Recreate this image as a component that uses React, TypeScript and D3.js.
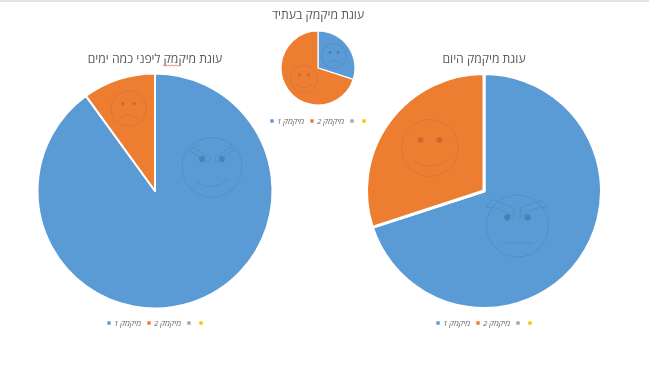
import React from "react";
import * as d3 from "d3";

const seriesColors = ["#5B9BD5", "#ED7D31", "#A5A5A5", "#FFC000"];
const legendLabels = ["מיקמק 1", "מיקמק 2", "", ""];

const titlePast = "עוגת מיקמק ליפני כמה ימים";
const titleFuture = "עוגת מיקמק בעתיד";
const titleToday = "עוגת מיקמק היום";

const valuesPast = [90, 10];
const valuesFuture = [30, 70];
const valuesToday = [70, 30];

type Mood = "evilSmile" | "sad" | "smile" | "angry";

const blueLine = "#4F8DC3";
const orangeLine = "#DB7430";
const blueEye = "#4A7FAE";
const orangeEye = "#C96A2C";
const fontFamily = "'Open Sans', 'Liberation Sans', sans-serif";

function Face({ cx, cy, r, mood, color, eyeColor }: { cx: number; cy: number; r: number; mood: Mood; color: string; eyeColor: string }) {
  const u = (v: number) => v * r;
  const eyeDx = 0.33;
  const eyeY = -0.28;
  let mouth = "";
  if (mood === "smile") mouth = `M${u(-0.56)},${u(0.45)} Q0,${u(0.82)} ${u(0.56)},${u(0.45)}`;
  if (mood === "sad") mouth = `M${u(-0.5)},${u(0.58)} Q0,${u(0.12)} ${u(0.5)},${u(0.58)}`;
  if (mood === "evilSmile") mouth = `M${u(-0.58)},${u(0.44)} Q0,${u(0.88)} ${u(0.58)},${u(0.38)}`;
  if (mood === "angry") mouth = `M${u(-0.5)},${u(0.55)} L${u(0.48)},${u(0.55)}`;
  const brows =
    mood === "angry"
      ? [
          `M${u(-1)},${u(-0.6)} L${u(-0.78)},${u(-0.86)} L${u(-0.12)},${u(-0.58)} L${u(-0.12)},${u(-0.28)} Q${u(-0.5)},${u(-0.62)} ${u(-1)},${u(-0.6)} Z`,
          `M${u(0.98)},${u(-0.62)} L${u(0.76)},${u(-0.84)} L${u(0.1)},${u(-0.58)} L${u(0.08)},${u(-0.28)} Q${u(0.5)},${u(-0.62)} ${u(0.98)},${u(-0.62)} Z`,
        ]
      : mood === "evilSmile"
        ? [
            `M${u(-0.72)},${u(-0.54)} L${u(-0.64)},${u(-0.68)} L${u(-0.02)},${u(-0.3)} L${u(-0.1)},${u(-0.18)} Z`,
            `M${u(0.72)},${u(-0.58)} L${u(0.6)},${u(-0.68)} L${u(0.1)},${u(-0.32)} L${u(0.14)},${u(-0.18)} Z`,
          ]
        : [];
  return (
    <g transform={`translate(${cx},${cy})`} fill="none" stroke={color} strokeWidth={0.9}>
      <circle r={r} />
      <circle cx={-u(eyeDx)} cy={u(eyeY)} r={Math.max(1.4, u(0.1))} fill={eyeColor} stroke="none" />
      <circle cx={u(eyeDx)} cy={u(eyeY)} r={Math.max(1.4, u(0.1))} fill={eyeColor} stroke="none" />
      <path d={mouth} />
      {brows.map((d, i) => (
        <path key={i} d={d} />
      ))}
    </g>
  );
}

function Pie({ cx, cy, r, values, sw }: { cx: number; cy: number; r: number; values: number[]; sw: number }) {
  const arcs = d3.pie<number>().sort(null)(values);
  const arc = d3.arc<d3.PieArcDatum<number>>().innerRadius(0).outerRadius(r);
  return (
    <g transform={`translate(${cx},${cy})`}>
      {arcs.map((a, i) => (
        <path key={i} d={arc(a) ?? ""} fill={seriesColors[i]} stroke="#fff" strokeWidth={sw} strokeLinejoin="round" />
      ))}
    </g>
  );
}

function Legend({ xs, y }: { xs: number[]; y: number }) {
  return (
    <g>
      {seriesColors.map((c, i) => (
        <g key={i}>
          <rect x={xs[i] - 1.7} y={y - 1.7} width={3.4} height={3.4} fill={c} />
          {legendLabels[i] && (
            <text
              x={xs[i] + 18.5}
              y={y + 2.8}
              textAnchor="middle"
              fontSize={8}
              fontStyle="italic"
              fill="#6a6a6a"
              fontFamily={fontFamily}
            >
              {legendLabels[i]}
            </text>
          )}
        </g>
      ))}
    </g>
  );
}

function Title({ x, y, text }: { x: number; y: number; text: string }) {
  return (
    <text x={x} y={y} textAnchor="middle" fontSize={12.2} fill="#595959" fontFamily={fontFamily}>
      {text}
    </text>
  );
}

export default function App() {
  return (
    <svg width={649} height={366} style={{ position: "absolute", left: 0, top: 0, background: "#fff" }}>
      <rect x={0} y={0} width={649} height={2} fill="#E4E4E4" />
      <g style={{ filter: "blur(0.35px)" }}>
        <Title x={155} y={63} text={titlePast} />
        <path d="M163,65.5 q1,-1 2,0 t2,0 t2,0 t2,0 t2,0 t2,0 t2,0 t2,0 t2,0" fill="none" stroke="#E0605A" strokeWidth={0.7} />
        <Title x={318} y={19} text={titleFuture} />
        <Title x={484} y={63} text={titleToday} />

        <Pie cx={155} cy={191} r={117.5} values={valuesPast} sw={2} />
        <Pie cx={318} cy={68} r={37} values={valuesFuture} sw={1.2} />
        <Pie cx={484} cy={191} r={117.5} values={valuesToday} sw={3} />

        <Face cx={212} cy={167.5} r={30} mood="evilSmile" color={blueLine} eyeColor={blueEye} />
        <Face cx={128.5} cy={108.5} r={17.5} mood="sad" color={orangeLine} eyeColor={orangeEye} />
        <Face cx={517.5} cy={226} r={31} mood="angry" color={blueLine} eyeColor={blueEye} />
        <Face cx={430} cy={148} r={28.5} mood="smile" color={orangeLine} eyeColor={orangeEye} />
        <Face cx={334} cy={56} r={12.5} mood="sad" color={blueLine} eyeColor={blueEye} />
        <Face cx={304} cy={79} r={13.5} mood="smile" color={orangeLine} eyeColor={orangeEye} />

        <Legend xs={[109, 149, 189, 201]} y={323} />
        <Legend xs={[272, 312, 352, 364]} y={121} />
        <Legend xs={[438, 478, 518, 530]} y={323} />
      </g>
    </svg>
  );
}
